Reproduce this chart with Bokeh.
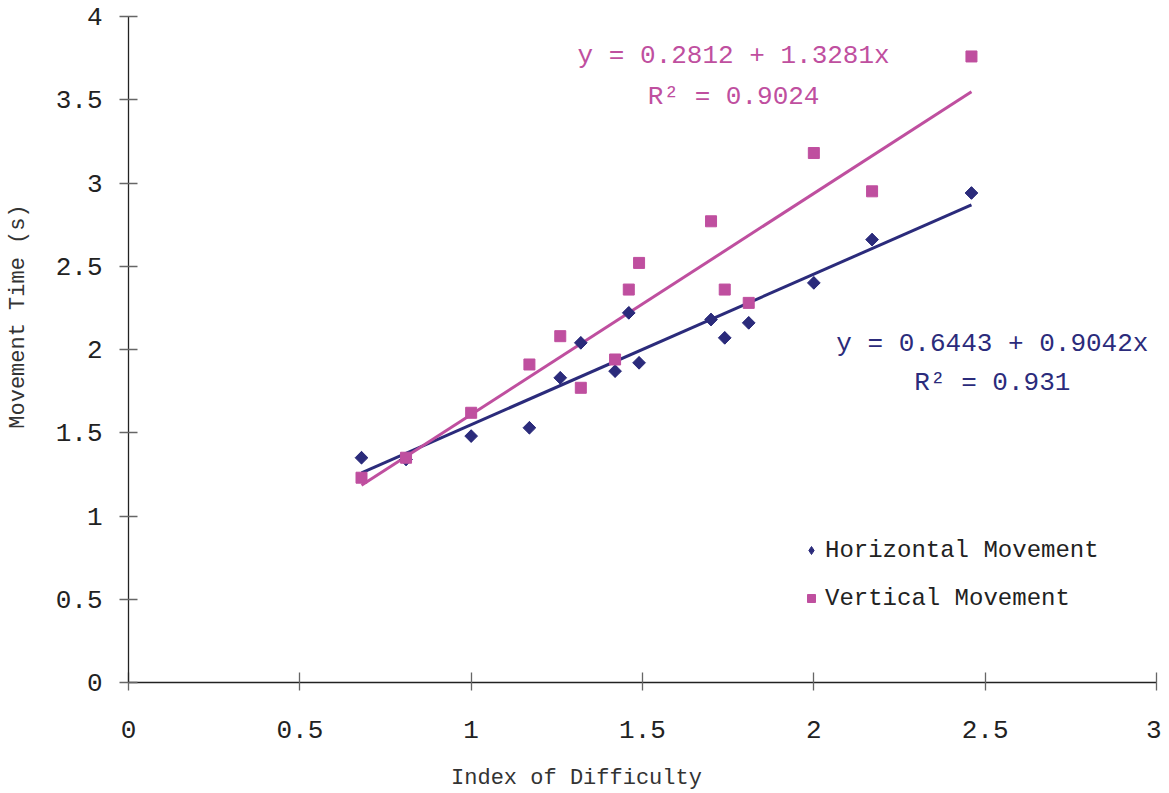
import math
from bokeh.plotting import figure
from bokeh.models import Label, Legend, LegendItem, Range1d, FixedTicker
from bokeh.embed import file_html
from bokeh.resources import INLINE

# Data
id_vals = [0.68, 0.81, 1.00, 1.17, 1.26, 1.32, 1.42, 1.46, 1.49, 1.70, 1.74, 1.81, 2.00, 2.17, 2.46]
horizontal = [1.35, 1.34, 1.48, 1.53, 1.83, 2.04, 1.87, 2.22, 1.92, 2.18, 2.07, 2.16, 2.40, 2.66, 2.94]
vertical = [1.23, 1.35, 1.62, 1.91, 2.08, 1.77, 1.94, 2.36, 2.52, 2.77, 2.36, 2.28, 3.18, 2.95, 3.76]

h_fit = (0.6443, 0.9042, 0.931)
v_fit = (0.2812, 1.3281, 0.9024)

x_ticks = [0, 0.5, 1, 1.5, 2, 2.5, 3]
y_ticks = [0, 0.5, 1, 1.5, 2, 2.5, 3, 3.5, 4]

NAVY = "#2B2B7B"
MAGENTA = "#BF4F9F"
FONT = "Liberation Mono"
NB = "\u00a0"

p = figure(width=1161, height=793, output_backend="svg", toolbar_location=None,
           x_range=Range1d(0, 3), y_range=Range1d(0, 4),
           min_border_left=128, min_border_right=5, min_border_top=16, min_border_bottom=111)
p.outline_line_color = None
p.grid.visible = False
p.background_fill_color = "white"

for ax in (p.xaxis[0], p.yaxis[0]):
    ax.axis_line_color = "#222222"
    ax.axis_line_width = 1.3
    ax.major_tick_line_color = "#666666"
    ax.major_tick_line_width = 1.3
    ax.minor_tick_line_color = None
    ax.major_label_text_font = FONT
    ax.major_label_text_font_size = "26px"
    ax.major_label_text_color = "#222222"
    ax.axis_label_text_font = FONT
    ax.axis_label_text_font_style = "normal"
    ax.axis_label_text_color = "#333333"
    ax.axis_label_text_font_size = "22px"

p.xaxis.ticker = FixedTicker(ticks=x_ticks)
p.yaxis.ticker = FixedTicker(ticks=y_ticks)
p.xaxis.major_label_overrides = {t: ("%g" % t) for t in x_ticks}
p.yaxis.major_label_overrides = {t: ("%g" % t) for t in y_ticks}
p.xaxis.major_tick_in = 10
p.xaxis.major_tick_out = 8
p.yaxis.major_tick_in = 9
p.yaxis.major_tick_out = 9
p.xaxis.major_label_standoff = 30
p.yaxis.major_label_standoff = 17
# non-breaking padding shifts the titles off-centre, as in the original
p.xaxis.axis_label = "Index of Difficulty" + NB * 10
p.xaxis.axis_label_standoff = 25
p.yaxis.axis_label = NB * 5 + "Movement Time (s)"
p.yaxis.axis_label_standoff = 22

# trend lines
xmin, xmax = min(id_vals), max(id_vals)
p.line([xmin, xmax], [h_fit[0] + h_fit[1] * xmin, h_fit[0] + h_fit[1] * xmax],
       line_color=NAVY, line_width=3)
p.line([xmin, xmax], [v_fit[0] + v_fit[1] * xmin, v_fit[0] + v_fit[1] * xmax],
       line_color=MAGENTA, line_width=3)

# diamond glyph (used for the legend), covered by the rotated squares on top
hr_leg = p.scatter(id_vals, horizontal, marker="diamond", size=12, color=NAVY)
p.scatter(id_vals, horizontal, marker="square", angle=math.pi / 4, size=9, color=NAVY)
vr = p.scatter(id_vals, vertical, marker="square", size=11, color=MAGENTA)

legend = Legend(items=[LegendItem(label="Horizontal Movement", renderers=[hr_leg]),
                       LegendItem(label="Vertical Movement", renderers=[vr])],
                location=(673, 69), orientation="vertical")
legend.border_line_color = None
legend.background_fill_alpha = 0
legend.label_text_font = FONT
legend.label_text_font_size = "24px"
legend.label_text_color = "#222222"
legend.glyph_width = 20
legend.glyph_height = 30
legend.label_height = 30
legend.label_standoff = 4
legend.spacing = 18
legend.padding = 0
legend.margin = 0
p.add_layout(legend, "center")

# equations
def eq_labels(fit, cx, cy1, cy2, color):
    a, b, r2 = fit
    p.add_layout(Label(x=cx, y=cy1, text="y = %.4f + %.4fx" % (a, b), text_font=FONT,
                       text_font_size="26px", text_color=color, text_align="center",
                       text_baseline="middle"))
    p.add_layout(Label(x=cx, y=cy2, text="R\u00b2 = %g" % r2, text_font=FONT,
                       text_font_size="26px", text_color=color, text_align="center",
                       text_baseline="middle"))

eq_labels(v_fit, 1.766, 3.76, 3.514, MAGENTA)
eq_labels(h_fit, 2.521, 2.036, 1.796, NAVY)

open("out.html", "w").write(file_html(p, INLINE))
